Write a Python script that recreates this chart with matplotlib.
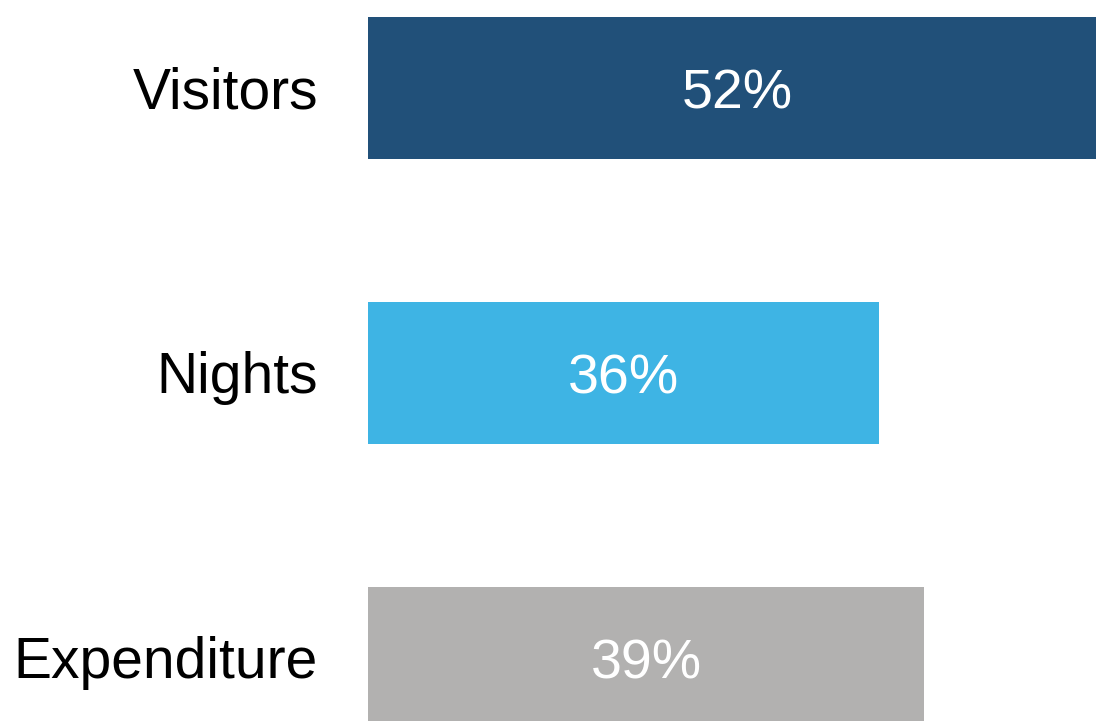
import matplotlib.pyplot as plt

# data
categories = ["Visitors", "Nights", "Expenditure"]
values = [52, 36, 39.2]
labels = ["52%", "36%", "39%"]
colors = ["#215079", "#3EB4E4", "#B2B1B0"]

plt.rcParams['font.family'] = ['Liberation Sans', 'DejaVu Sans']

fig = plt.figure(figsize=(10.96, 7.21), dpi=100)
ax = fig.add_axes([368/1096, 0, 728/1096, 1])

y = list(range(len(categories)))
ax.barh(y, values, height=0.5, color=colors)

# baseline a bit below bar centre
off = 20/285
for i in y:
    ax.text(values[i]/2, i + off, labels[i], color="white", fontsize=40,
            ha="center", va="baseline")
    ax.text(-50/14.19, i + off, categories[i], color="black", fontsize=41,
            ha="right", va="baseline", clip_on=False)

ax.set_xlim(0, 51.3)
ax.set_ylim(2.221, -0.309)
ax.axis("off")

plt.savefig("out.png", dpi=100)
